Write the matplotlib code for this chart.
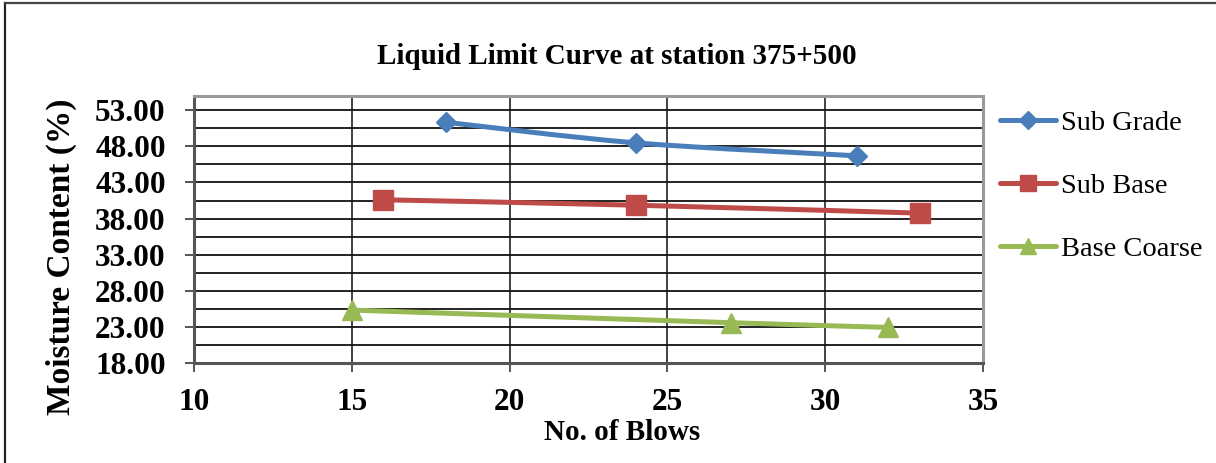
import matplotlib
matplotlib.use("Agg")
import matplotlib.pyplot as plt
import numpy as np
from matplotlib.path import Path
from matplotlib.patches import PathPatch
from matplotlib.lines import Line2D
from matplotlib.ticker import FixedLocator

plt.rcParams['font.family'] = ['Liberation Serif', 'DejaVu Serif']

title = "Liquid Limit Curve at station 375+500"
xlabel = "No. of Blows"
ylabel = "Moisture Content (%)"

sub_grade_x = [18, 24, 31]
sub_grade_y = [51.35, 48.5, 46.7]
sub_base_x = [16, 24, 33]
sub_base_y = [40.6, 39.85, 38.75]
base_coarse_x = [15, 27, 32]
base_coarse_y = [25.3, 23.55, 22.9]

series = [
    ("Sub Grade", sub_grade_x, sub_grade_y, "#4A7EBB", "D", 10.6),
    ("Sub Base", sub_base_x, sub_base_y, "#BE4B48", "s", 14.0),
    ("Base Coarse", base_coarse_x, base_coarse_y, "#98B954", "^", 14.0),
]

x_ticks = [10, 15, 20, 25, 30, 35]
y_ticks = [18, 23, 28, 33, 38, 43, 48, 53]
y_tick_labels = [f"{v:.2f}" for v in y_ticks]

W, H = 1216, 463
fig = plt.figure(figsize=(W / 100, H / 100), dpi=100)
ax = fig.add_axes([194 / W, 1 - 362.7 / H, (983 - 194) / W, (362.7 - 96) / H])

ax.set_xlim(10, 35)
ax.set_ylim(18, 55)

def smooth_path(xs, ys):
    p = np.column_stack([xs, ys]).astype(float)
    n = len(p)
    verts = [tuple(p[0])]
    codes = [Path.MOVETO]
    for i in range(n - 1):
        p0 = p[i - 1] if i > 0 else p[i]
        p1 = p[i]
        p2 = p[i + 1]
        p3 = p[i + 2] if i + 2 < n else p[i + 1]
        c1 = p1 + (p2 - p0) / 6.0
        c2 = p2 - (p3 - p1) / 6.0
        verts += [tuple(c1), tuple(c2), tuple(p2)]
        codes += [Path.CURVE4] * 3
    return Path(verts, codes)

handles = []
for name, xs, ys, color, mk, ms in series:
    patch = PathPatch(smooth_path(xs, ys), fill=False, edgecolor=color,
                      linewidth=3.6, transform=ax.transData, zorder=3,
                      capstyle='round', joinstyle='round')
    ax.add_patch(patch)
    ax.plot(xs, ys, linestyle='none', marker=mk, markersize=ms,
            color=color, markeredgecolor=color, zorder=4, clip_on=False)
    handles.append(Line2D([], [], color=color, lw=3.6, marker=mk,
                          markersize=ms * 0.85, markeredgecolor=color,
                          solid_capstyle='round'))

ax.xaxis.set_major_locator(FixedLocator(x_ticks))
ax.yaxis.set_major_locator(FixedLocator(y_ticks))
ax.yaxis.set_minor_locator(FixedLocator([v + 2.5 for v in y_ticks[:-1]]))
ax.set_yticklabels(y_tick_labels)
ax.set_xticklabels([str(v) for v in x_ticks])

ax.grid(which='major', axis='y', color='#111111', linewidth=1.3)
ax.grid(which='minor', axis='y', color='#111111', linewidth=1.3)
ax.grid(which='major', axis='x', color='#333333', linewidth=1.3)
ax.set_axisbelow(True)

for s in ['top', 'right']:
    ax.spines[s].set_color('#999999')
    ax.spines[s].set_linewidth(2.2)
for s in ['left', 'bottom']:
    ax.spines[s].set_color('#555555')
    ax.spines[s].set_linewidth(2.2)

ax.tick_params(axis='both', which='major', direction='out', length=6.3,
               width=1.4, color='#555555', labelsize=22.5)
ax.tick_params(axis='y', which='major', pad=14)
ax.tick_params(axis='x', which='major', pad=12)
ax.tick_params(axis='both', which='minor', length=0)
for lbl in ax.get_xticklabels() + ax.get_yticklabels():
    lbl.set_fontweight('bold')

fig.text(617 / W, 1 - 57 / H, title, ha='center', va='center',
         fontsize=21, fontweight='bold')
fig.text(622 / W, 1 - 432 / H, xlabel, ha='center', va='center',
         fontsize=21, fontweight='bold')
fig.text(61.5 / W, 1 - 257 / H, ylabel, ha='center', va='center',
         rotation=90, fontsize=24, fontweight='bold')

fig.legend(handles, [s[0] for s in series], loc='upper left',
           bbox_to_anchor=(1000 / W, 1 - 110 / H), frameon=False,
           fontsize=20.5, handlelength=1.95, handletextpad=0.2,
           labelspacing=1.31, borderpad=0, borderaxespad=0)

# outer chart border (top and left visible)
fig.add_artist(Line2D([5 / W, 5 / W], [0, 1 - 3 / H], transform=fig.transFigure,
                      color='#222222', linewidth=1.6))
fig.add_artist(Line2D([5 / W, 1], [1 - 3 / H, 1 - 3 / H], transform=fig.transFigure,
                      color='#444444', linewidth=1.6))

fig.savefig("out.png", dpi=100)
